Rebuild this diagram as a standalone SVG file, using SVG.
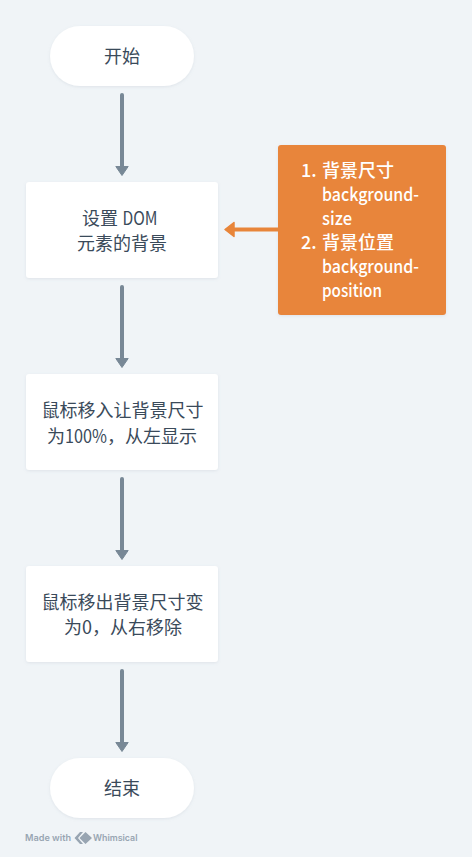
<svg xmlns="http://www.w3.org/2000/svg" width="472" height="857" viewBox="0 0 472 857">
<style>
text{font-family:"Noto Sans CJK SC","Noto Sans",sans-serif;font-size:18px}
.n{fill:#fff;filter:url(#s)}
.t{fill:#3a4a5a;text-anchor:middle}
.l{fill:#3a4a5a}
.o{fill:#fff;font-weight:500}
.c{fill:none;stroke:#788896;stroke-width:4;stroke-linecap:round}
.m{font-family:Inter,sans-serif;font-size:9px;font-weight:600}
</style>
<defs>
<filter id="s" x="-10%" y="-10%" width="120%" height="130%"><feDropShadow dx="0" dy="1" stdDeviation="1.5" flood-color="#8a9aaa" flood-opacity=".18"/></filter>
<marker id="ag" markerUnits="userSpaceOnUse" markerWidth="14" markerHeight="14" refX="0" refY="7" orient="auto"><path d="M.5 .8L9.500 7L.5 13.200Z" fill="#788896" stroke="#788896" stroke-width="1" stroke-linejoin="round"/></marker>
</defs>
<rect width="472" height="857" fill="#f0f4f7"/>
<g id="connectors">
<path class="c" d="M122 95V166" marker-end="url(#ag)"/>
<path class="c" d="M122 287V358" marker-end="url(#ag)"/>
<path class="c" d="M122 479V550" marker-end="url(#ag)"/>
<path class="c" d="M122 671V742" marker-end="url(#ag)"/>
<path d="M278 229.500H234" fill="none" stroke="#e8853a" stroke-width="4"/>
<path d="M225 229.500L234 222.500V236.500Z" fill="#e8853a" stroke="#e8853a" stroke-width="1.500" stroke-linejoin="round"/>
</g>
<g id="start"><rect class="n" x="50" y="26" width="144" height="60" rx="30"/><text class="t" x="122" y="62.500">开始</text></g>
<g id="set"><rect class="n" x="26" y="182" width="192" height="96" rx="3"/><text class="l" x="82" y="225">设置<tspan x="122.500" textLength="35" lengthAdjust="spacingAndGlyphs">DOM</tspan></text><text class="t" x="122" y="250">元素的背景</text></g>
<g id="enter"><rect class="n" x="26" y="374" width="192" height="96" rx="3"/><text class="t" x="122.500" y="417">鼠标移入让背景尺寸</text><text class="l" x="47" y="442.500">为<tspan x="65" textLength="42" lengthAdjust="spacingAndGlyphs">100%</tspan><tspan x="107">，从左显示</tspan></text></g>
<g id="leave"><rect class="n" x="26" y="566" width="192" height="96" rx="3"/><text class="t" x="122.500" y="609">鼠标移出背景尺寸变</text><text class="t" x="123" y="634">为0，从右移除</text></g>
<g id="end"><rect class="n" x="50" y="758" width="144" height="60" rx="30"/><text class="t" x="122" y="794.500">结束</text></g>
<g id="note"><rect x="278" y="145" width="168" height="170" rx="3" fill="#e8853a" filter="url(#s)"/>
<text class="o" x="301" y="177">1.</text><text class="o" x="322" y="177">背景尺寸</text><text class="o" x="322" y="200.500" textLength="97" lengthAdjust="spacingAndGlyphs">background-</text><text class="o" x="322" y="224.500" textLength="30" lengthAdjust="spacingAndGlyphs">size</text><text class="o" x="301" y="248.500">2.</text><text class="o" x="322" y="248.500">背景位置</text><text class="o" x="322" y="272.500" textLength="97" lengthAdjust="spacingAndGlyphs">background-</text><text class="o" x="322" y="296.500" textLength="60" lengthAdjust="spacingAndGlyphs">position</text></g>
<g id="credit" fill="#98a5b2"><text class="m" x="25" y="841" textLength="46" lengthAdjust="spacingAndGlyphs">Made with</text><path d="M80 832L74.500 838L80 844L83 844L78 838L83 832Z M85.500 832L92 838L85.500 844L79.500 838Z"/><text class="m" x="93" y="841" textLength="44.500" lengthAdjust="spacingAndGlyphs">Whimsical</text></g>
</svg>
